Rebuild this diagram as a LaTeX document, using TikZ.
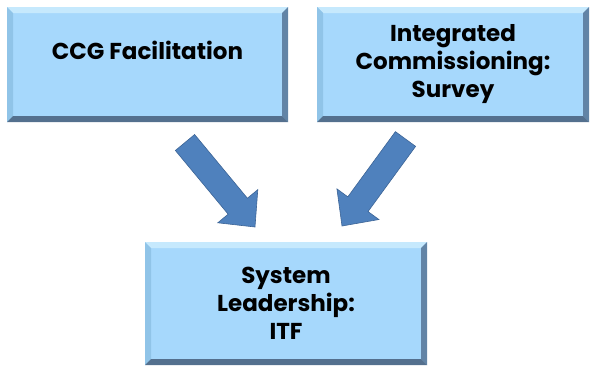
\documentclass[tikz,border=0pt]{standalone}
\usepackage{fontspec}
\setmainfont{Poppins}
\usepackage{tikz}
\usetikzlibrary{calc}

\definecolor{boxface}{RGB}{166,216,252}
\definecolor{bevtop}{RGB}{198,233,253}
\definecolor{bevleft}{RGB}{144,196,232}
\definecolor{bevright}{RGB}{98,132,166}
\definecolor{bevbot}{RGB}{84,112,142}
\definecolor{arrowfill}{RGB}{79,129,189}
\definecolor{arrowedge}{RGB}{60,100,150}

\begin{document}
\begin{tikzpicture}[x=1pt, y=-1pt,
    box/.style={fill=boxface, inner sep=0pt, align=center,
        font=\fontsize{23}{28}\selectfont\bfseries,
        path picture={
            \path (path picture bounding box.north west) coordinate (bnw)
                  (path picture bounding box.north east) coordinate (bne)
                  (path picture bounding box.south west) coordinate (bsw)
                  (path picture bounding box.south east) coordinate (bse);
            \fill[bevtop] (bnw) -- (bne) -- ([shift={(-\bev,-\bev)}]bne) -- ([shift={(\bev,-\bev)}]bnw) -- cycle;
            \fill[bevleft] (bnw) -- ([shift={(\bev,-\bev)}]bnw) -- ([shift={(\bev,\bev)}]bsw) -- (bsw) -- cycle;
            \fill[bevright] (bne) -- ([shift={(-\bev,-\bev)}]bne) -- ([shift={(-\bev,\bev)}]bse) -- (bse) -- cycle;
            \fill[bevbot] (bsw) -- ([shift={(\bev,\bev)}]bsw) -- ([shift={(-\bev,\bev)}]bse) -- (bse) -- cycle;
        }},
    blockarrow/.style={fill=arrowfill, draw=arrowedge, line width=0.6pt, line join=miter}]

    % --- PARAMETERS ---
    \def\bev{6pt}
    \def\shaft{12.5pt} \def\head{26pt} \def\headlen{27pt}

    \useasboundingbox (0,0) rectangle (593,367);

    % --- BOXES ---
    \node[box, minimum width=281pt, minimum height=115pt] (ccg) at (147.5,64.5) {CCG Facilitation\\~};
    \node[box, minimum width=272pt, minimum height=115pt] (survey) at (453,64.5) {Integrated\\Commissioning:\\Survey};
    \node[box, minimum width=282pt, minimum height=123pt] (itf) at (286,303.5) {System\\Leadership:\\ITF};

    % --- BLOCK ARROWS ---
    \coordinate (ltail) at (185,142.5);
    \coordinate (ltip) at (255,227);
    \coordinate (rtail) at (405.5,139);
    \coordinate (rtip) at (342,226);

    \foreach \t/\p in {ltail/ltip, rtail/rtip} {
        \coordinate (hb) at ($(\p)!\headlen!(\t)$);
        \draw[blockarrow] ($(\t)!\shaft!90:(\p)$) -- ($(hb)!\shaft!90:(\p)$) -- ($(hb)!\head!90:(\p)$)
            -- (\p) -- ($(hb)!\head!-90:(\p)$) -- ($(hb)!\shaft!-90:(\p)$) -- ($(\t)!\shaft!-90:(\p)$) -- cycle;
    }
\end{tikzpicture}
\end{document}
